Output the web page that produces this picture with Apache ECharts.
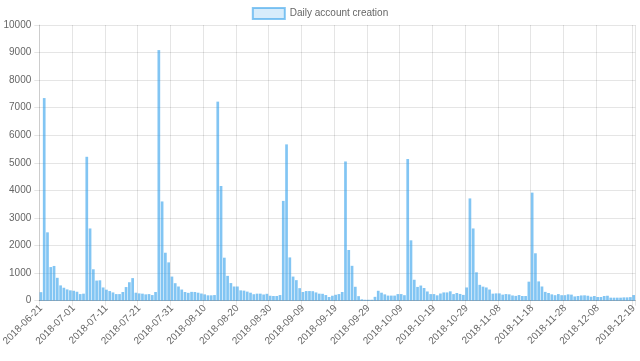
<!DOCTYPE html>
<html>
<head>
<meta charset="utf-8">
<script src="https://cdn.jsdelivr.net/npm/echarts@6/dist/echarts.min.js"></script>
<style>html,body{margin:0;padding:0;background:#fff}#c{width:640px;height:361px}</style>
</head>
<body>
<div id="c"></div>
<script>
var seriesName = 'Daily account creation';
var startDate = '2018-06-21';
var dayCount = 182;
var dailyCounts = [
  310, 7350, 2480, 1220, 1260, 830, 555, 470, 410, 375,
  360, 325, 240, 255, 5220, 2620, 1140, 730, 740, 480,
  400, 350, 300, 240, 240, 315, 495, 670, 820, 290,
  265, 255, 230, 240, 205, 315, 9090, 3600, 1740, 1390,
  875, 635, 515, 405, 315, 285, 320, 315, 290, 260,
  230, 195, 195, 205, 7220, 4160, 1560, 900, 640, 515,
  515, 375, 365, 330, 290, 235, 255, 255, 225, 250,
  180, 170, 170, 205, 3620, 5670, 1570, 875, 745, 455,
  315, 350, 350, 345, 300, 255, 250, 205, 135, 180,
  215, 240, 315, 5050, 1840, 1265, 505, 165, 50, 35,
  35, 35, 140, 360, 290, 230, 185, 185, 185, 240,
  240, 200, 5140, 2190, 760, 500, 550, 460, 335, 240,
  240, 195, 260, 300, 300, 340, 240, 280, 245, 210,
  480, 3710, 2620, 1030, 575, 510, 480, 405, 255, 265,
  265, 220, 240, 230, 190, 175, 205, 170, 170, 690,
  3920, 1720, 700, 515, 320, 280, 230, 200, 240, 200,
  200, 230, 220, 155, 170, 190, 195, 180, 145, 170,
  135, 135, 170, 180, 110, 110, 110, 110, 120, 120,
  130, 205
];
var yTicks = [0, 1000, 2000, 3000, 4000, 5000, 6000, 7000, 8000, 9000, 10000];
// tick label dates shown on the x axis
var xTickLabels = ['2018-06-21', '2018-07-01', '2018-07-11', '2018-07-21', '2018-07-31',
  '2018-08-10', '2018-08-20', '2018-08-30', '2018-09-09', '2018-09-19', '2018-09-29',
  '2018-10-09', '2018-10-19', '2018-10-29', '2018-11-08', '2018-11-18', '2018-11-28',
  '2018-12-08', '2018-12-19'];

var dates = [];
(function () {
  var d = new Date(startDate + 'T00:00:00Z');
  for (var i = 0; i < dayCount; i++) {
    var t = new Date(d.getTime() + i * 86400000);
    var m = ('0' + (t.getUTCMonth() + 1)).slice(-2);
    var dd = ('0' + t.getUTCDate()).slice(-2);
    dates.push(t.getUTCFullYear() + '-' + m + '-' + dd);
  }
})();
function isTick(idx, value) {
  return xTickLabels.indexOf(value !== undefined ? value : dates[idx]) >= 0;
}

var font = "'Liberation Sans', Arial, Helvetica, sans-serif";
var chart = echarts.init(document.getElementById('c'), null, {renderer: 'canvas'});
chart.setOption({
  animation: false,
  backgroundColor: '#fff',
  textStyle: {fontFamily: font},
  legend: {
    top: 2,
    left: 'center',
    itemWidth: 32,
    itemHeight: 11,
    itemGap: 10,
    textStyle: {color: '#666', fontSize: 10, fontFamily: font},
    data: [{
      name: seriesName,
      icon: 'rect',
      itemStyle: {color: 'rgba(54,162,235,0.2)', borderColor: 'rgba(54,162,235,0.6)', borderWidth: 2}
    }]
  },
  grid: {left: 39.3, right: 4.7, top: 25, bottom: 60.3, containLabel: false, outerBoundsMode: 'none'},
  xAxis: {
    type: 'category',
    data: dates,
    boundaryGap: true,
    axisLine: {show: true, lineStyle: {color: 'rgba(0,0,0,0.25)', width: 1}},
    axisTick: {show: true, interval: function (i, v) { return isTick(i, v); }, length: 5, lineStyle: {color: 'rgba(0,0,0,0.1)'}},
    axisLabel: {interval: function (i, v) { return isTick(i, v); }, rotate: 45, color: '#666', fontSize: 10, fontFamily: font, margin: 6},
    splitLine: {show: true, interval: function (i, v) { return isTick(i, v); }, lineStyle: {color: 'rgba(0,0,0,0.1)', width: 1}}
  },
  yAxis: {
    type: 'value',
    min: yTicks[0],
    max: yTicks[yTicks.length - 1],
    interval: 1000,
    axisLine: {show: true, lineStyle: {color: 'rgba(0,0,0,0.1)'}},
    axisTick: {show: true, length: 5, lineStyle: {color: 'rgba(0,0,0,0.1)'}},
    axisLabel: {color: '#666', fontSize: 10, fontFamily: font, margin: 8, formatter: function (v) { return String(v); }},
    splitLine: {show: true, lineStyle: {color: 'rgba(0,0,0,0.1)', width: 1}}
  },
  series: [{
    name: seriesName,
    type: 'bar',
    data: dailyCounts,
    barWidth: 2.7,
    itemStyle: {color: 'rgba(54,162,235,0.62)'}
  }]
});
</script>
</body>
</html>
